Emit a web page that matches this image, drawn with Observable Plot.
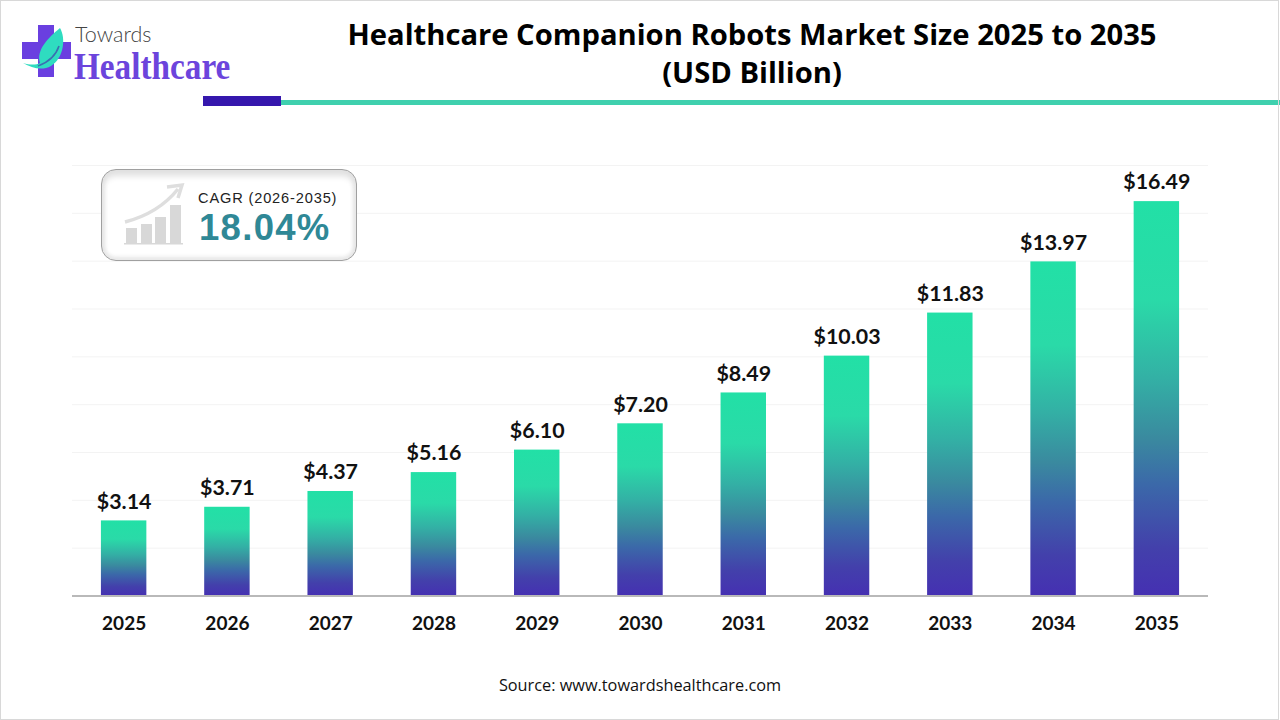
<!DOCTYPE html>
<html>
<head>
<meta charset="utf-8">
<script src="https://cdn.jsdelivr.net/npm/d3@7"></script>
<script src="https://cdn.jsdelivr.net/npm/@observablehq/plot@0.6"></script>
<style>
html,body{margin:0;padding:0;background:#fff;}
#page{position:relative;width:1280px;height:720px;overflow:hidden;background:#fff;box-sizing:border-box;}
#page::after{content:"";position:absolute;inset:0 1px 0 0;border:1px solid #d8d8d8;pointer-events:none;}
#chart{position:absolute;left:0;top:0;}
.abs{position:absolute;white-space:nowrap;}
#title{left:252px;width:1000px;top:15px;text-align:center;font:700 29.2px/38px "Open Sans",sans-serif;color:#000;}
#source{left:0;width:1280px;top:675px;text-align:center;font:400 16.3px/21px "Open Sans",sans-serif;color:#111;}
#barDark{left:203px;top:96px;width:78px;height:10px;background:#3517ad;}
#barTeal{left:281px;top:100px;width:999px;height:5px;background:#3fd0ae;}
#cagrBox{left:101px;top:169px;width:256px;height:92px;box-sizing:border-box;border:1.5px solid #a0a0a0;border-radius:15px;background:#fff;box-shadow:inset 0 6px 6px #e0e0e0,inset 0 -3px 4px #e8e8e8,inset 3px 0 4px #eeeeee,inset -3px 0 4px #eeeeee;}
#cagrLabel{left:198px;top:189px;font:400 14.6px/18px "Liberation Sans",Arial,sans-serif;letter-spacing:.85px;color:#222;}
#cagrValue{left:199px;top:207px;font:700 36.5px/42px "Liberation Sans",Arial,sans-serif;letter-spacing:1.3px;color:#2f8896;}
#towards{left:75px;top:21px;font:300 21.5px/26px "Lato",sans-serif;color:#444;}
#healthcare{left:74px;top:47px;font:700 38px/38px "Liberation Serif",serif;color:#6c44dc;transform:scaleX(.875);transform-origin:left center;}
</style>
</head>
<body>
<div id="page">
  <div id="chart"></div>
  <svg class="abs" style="left:20px;top:22px" width="54" height="58" viewBox="0 0 54 58">
    <path d="M18 3H34V20H51V37H34V55H18V37H2V20H18Z" fill="#6a3fe0"/>
    <path d="M40 6C46 16 44 36 31 44C22 49 12 46 3 41C10 43 16 43 20 41C16 28 28 16 40 6Z" fill="#2fdcc0"/>
    <path d="M39 24C36 33 29 40 18 44" stroke="#3a6fb0" stroke-width="1.6" fill="none"/>
  </svg>
  <div class="abs" id="towards">Towards</div>
  <div class="abs" id="healthcare">Healthcare</div>
  <div class="abs" id="title">Healthcare Companion Robots Market Size 2025 to 2035<br>(USD Billion)</div>
  <div class="abs" id="barDark"></div>
  <div class="abs" id="barTeal"></div>
  <div class="abs" id="cagrBox"></div>
  <svg class="abs" style="left:120px;top:182px" width="68" height="66" viewBox="0 0 68 66">
    <path d="M5 40C28 34 46 22 58 7" stroke="#dedede" stroke-width="3.5" fill="none"/>
    <path d="M47 5L62 3L58 16" stroke="#dedede" stroke-width="3.5" fill="none"/>
    <g fill="#d8d8d8">
      <rect x="6" y="46" width="11" height="16"/>
      <rect x="21" y="42" width="11" height="20"/>
      <rect x="35" y="35" width="11" height="27"/>
      <rect x="50" y="23" width="11" height="39"/>
      <rect x="4" y="61" width="59" height="1.5"/>
    </g>
  </svg>
  <div class="abs" id="cagrLabel">CAGR (2026-2035)</div>
  <div class="abs" id="cagrValue">18.04%</div>
  <div class="abs" id="source">Source: www.towardshealthcare.com</div>
</div>
<script>
const years = ["2025","2026","2027","2028","2029","2030","2031","2032","2033","2034","2035"];
const values = [3.14,3.71,4.37,5.16,6.10,7.20,8.49,10.03,11.83,13.97,16.49];
const labels = ["$3.14","$3.71","$4.37","$5.16","$6.10","$7.20","$8.49","$10.03","$11.83","$13.97","$16.49"];
const gridValues = [2,4,6,8,10,12,14,16,18];
const rows = years.map((year,i)=>({year,value:values[i],label:labels[i]}));

const defs = () => {
  const d = d3.create("svg:defs");
  const g = d.append("linearGradient").attr("id","barGrad").attr("x1",0).attr("y1",0).attr("x2",0).attr("y2",1);
  g.append("stop").attr("offset","0%").attr("stop-color","#22e0a6");
  g.append("stop").attr("offset","25%").attr("stop-color","#2adaa8");
  g.append("stop").attr("offset","45%").attr("stop-color","#33b0a5");
  g.append("stop").attr("offset","60%").attr("stop-color","#3a8a9f");
  g.append("stop").attr("offset","72%").attr("stop-color","#3b68a9");
  g.append("stop").attr("offset","88%").attr("stop-color","#4340ab");
  g.append("stop").attr("offset","100%").attr("stop-color","#4530b2");
  return d.node();
};

const chart = Plot.plot({
  width:1280,
  height:720,
  marginLeft:72,
  marginRight:72,
  marginTop:165,
  marginBottom:124.5,
  style:{background:"transparent",overflow:"visible"},
  x:{domain:years,paddingInner:0.56,paddingOuter:0.28,round:false,label:null},
  y:{domain:[0,18],axis:null,label:null},
  marks:[
    defs,
    Plot.ruleY(gridValues,{stroke:"#f3f3f3",strokeWidth:1}),
    Plot.barY(rows,{x:"year",y:"value",fill:"url(#barGrad)"}),
    Plot.ruleY([0],{stroke:"#b9b9b9",strokeWidth:2}),
    Plot.text(rows,{x:"year",y:"value",text:"label",dy:-19,fill:"#111",fontSize:21.4,fontWeight:700,fontFamily:"Lato"}),
    Plot.axisX({tickSize:0,tickPadding:20,label:null,fontSize:19,fontWeight:700,fontFamily:"Lato",color:"#111"})
  ]
});
document.getElementById("chart").append(chart);
</script>
</body>
</html>
